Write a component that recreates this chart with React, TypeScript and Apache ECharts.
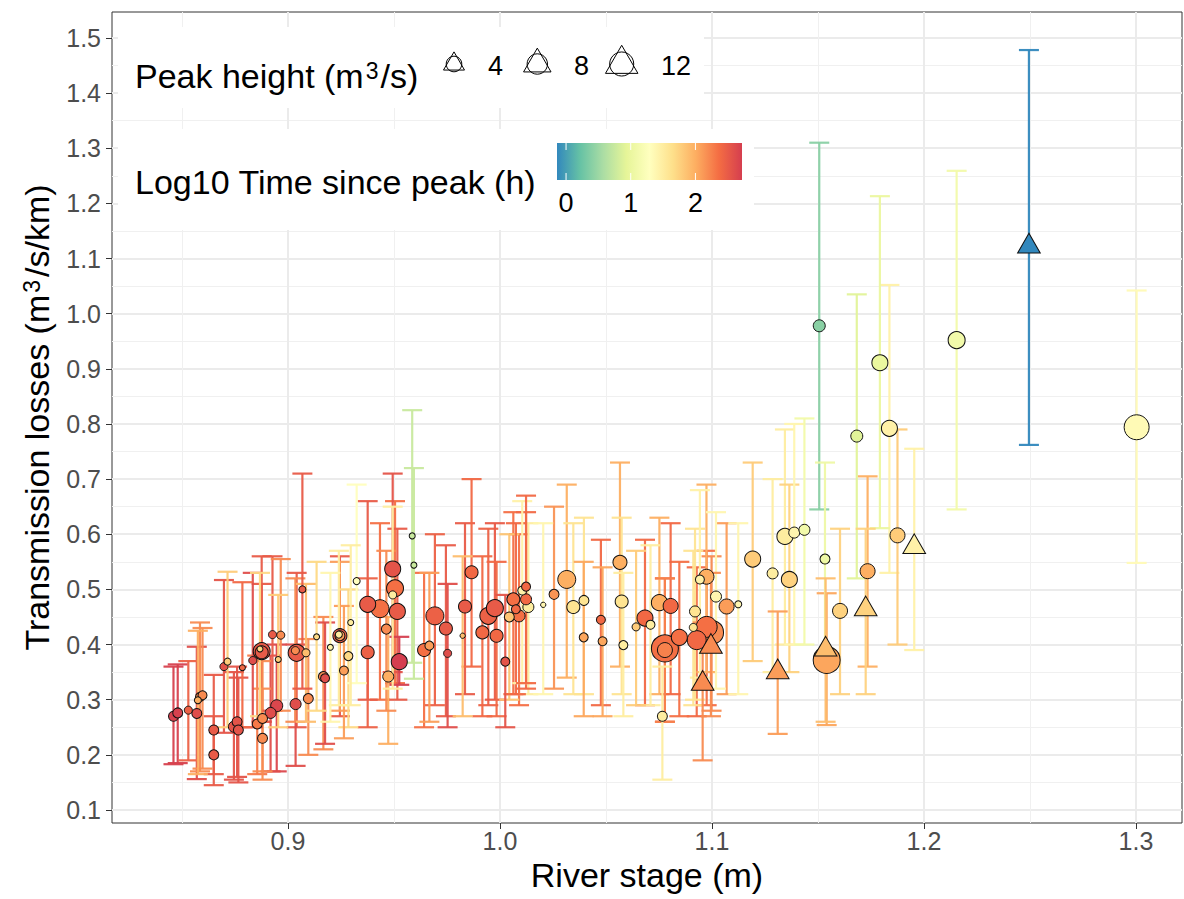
import React, { useEffect, useRef } from "react";
import * as echarts from "echarts";

// ---- axis ticks ----
const xTicks = [0.9, 1.0, 1.1, 1.2, 1.3];
const xMinor = [0.85, 0.95, 1.05, 1.15, 1.25];
const yTicks = [0.1, 0.2, 0.3, 0.4, 0.5, 0.6, 0.7, 0.8, 0.9, 1.0, 1.1, 1.2, 1.3, 1.4, 1.5];
const yMinor = [0.15, 0.25, 0.35, 0.45, 0.55, 0.65, 0.75, 0.85, 0.95, 1.05, 1.15, 1.25, 1.35, 1.45];

// ---- legend values ----
const peakKeys = [4, 8, 12];
const timeLabels = [0, 1, 2];
const spectral = ["#3288BD", "#66C2A5", "#ABDDA4", "#E6F598", "#FFFFBF", "#FEE08B", "#FDAE61", "#F46D43", "#D53E4F"];
const timeMin = -0.14;
const timeMax = 2.72;

// rows: [river stage, transmission loss, log10 time since peak, peak height, lower, upper]
const circlesLow: number[][] = [
  [0.846, 0.270, 2.70, 1.07, 0.183, 0.360],
  [0.848, 0.276, 2.70, 1.07, 0.185, 0.364],
  [0.853, 0.281, 2.45, 0.48, 0.190, 0.370],
  [0.857, 0.275, 2.60, 1.07, 0.156, 0.396],
  [0.8585, 0.305, 2.20, 0.74, 0.170, 0.440],
  [0.8597, 0.308, 2.20, 0.74, 0.175, 0.430],
  [0.8575, 0.299, 2.00, 0.27, 0.165, 0.425],
  [0.865, 0.245, 2.50, 1.07, 0.165, 0.345],
  [0.865, 0.200, 2.50, 1.07, 0.145, 0.270],
  [0.8698, 0.360, 2.55, 0.48, 0.240, 0.517],
  [0.8715, 0.369, 1.80, 0.27, 0.250, 0.532],
  [0.8745, 0.251, 2.55, 1.46, 0.155, 0.350],
  [0.876, 0.260, 2.55, 1.07, 0.160, 0.360],
  [0.8766, 0.245, 2.55, 1.07, 0.150, 0.340],
  [0.8785, 0.358, 2.40, 0.12, 0.250, 0.513],
  [0.8834, 0.371, 2.60, 0.48, 0.250, 0.530],
  [0.8855, 0.256, 2.30, 1.07, 0.165, 0.380],
  [0.888, 0.266, 2.20, 1.07, 0.170, 0.370],
  [0.888, 0.230, 2.20, 1.07, 0.155, 0.320],
  [0.8918, 0.276, 2.60, 1.46, 0.170, 0.380],
  [0.8947, 0.289, 2.65, 1.90, 0.170, 0.400],
  [0.8876, 0.388, 2.50, 5.00, 0.260, 0.560],
  [0.8876, 0.386, 2.50, 2.40, 0.260, 0.510],
  [0.8868, 0.392, 1.70, 0.12, 0.270, 0.530],
  [0.8927, 0.418, 2.50, 0.48, 0.280, 0.560],
  [0.8966, 0.417, 2.20, 0.48, 0.280, 0.555],
  [0.8954, 0.373, 1.80, 0.12, 0.250, 0.490],
  [0.9068, 0.500, 2.50, 0.27, 0.320, 0.710],
  [0.9041, 0.385, 2.50, 5.00, 0.250, 0.530],
  [0.9035, 0.389, 2.20, 0.48, 0.260, 0.520],
  [0.9085, 0.385, 1.90, 0.48, 0.260, 0.510],
  [0.9036, 0.292, 2.60, 1.46, 0.180, 0.400],
  [0.9096, 0.302, 2.20, 1.07, 0.200, 0.410],
  [0.9135, 0.414, 1.70, 0.12, 0.280, 0.550],
  [0.9167, 0.342, 2.20, 1.07, 0.210, 0.450],
  [0.9175, 0.339, 2.60, 0.74, 0.220, 0.440],
];

const circlesMid: number[][] = [
  [0.920, 0.395, 1.40, 0.12, 0.260, 0.530],
  [0.9245, 0.416, 2.50, 3.00, 0.270, 0.560],
  [0.9245, 0.416, 2.10, 1.07, 0.280, 0.550],
  [0.924, 0.418, 1.50, 0.27, 0.290, 0.570],
  [0.9324, 0.515, 1.30, 0.27, 0.330, 0.690],
  [0.9296, 0.440, 1.50, 0.12, 0.290, 0.580],
  [0.9285, 0.379, 1.70, 0.74, 0.250, 0.500],
  [0.9264, 0.353, 2.10, 0.74, 0.230, 0.470],
  [0.9376, 0.473, 2.50, 4.30, 0.300, 0.660],
  [0.9434, 0.465, 2.35, 5.80, 0.300, 0.620],
  [0.9516, 0.460, 2.50, 4.30, 0.300, 0.610],
  [0.9376, 0.386, 2.45, 2.40, 0.250, 0.520],
  [0.9494, 0.537, 2.55, 4.30, 0.350, 0.710],
  [0.9505, 0.502, 2.35, 5.00, 0.330, 0.660],
  [0.9494, 0.490, 1.50, 0.48, 0.320, 0.650],
  [0.9464, 0.428, 2.20, 1.07, 0.280, 0.570],
  [0.9473, 0.342, 2.00, 1.46, 0.220, 0.450],
  [0.9525, 0.369, 2.75, 4.30, 0.327, 0.414],
  [0.9586, 0.597, 0.75, 0.12, 0.367, 0.825],
  [0.9594, 0.544, 0.75, 0.12, 0.338, 0.720],
  [0.9642, 0.390, 2.35, 2.40, 0.250, 0.530],
  [0.9667, 0.398, 2.10, 0.74, 0.260, 0.530],
  [0.9693, 0.452, 2.45, 5.80, 0.290, 0.600],
  [0.9745, 0.429, 2.50, 2.40, 0.270, 0.580],
  [0.9753, 0.384, 2.60, 0.48, 0.250, 0.510],
  [0.9824, 0.416, 1.90, 0.05, 0.270, 0.560],
  [0.9835, 0.469, 2.50, 2.40, 0.310, 0.620],
  [0.9866, 0.531, 2.40, 2.40, 0.360, 0.700],
];

const circlesHigh: number[][] = [
  [0.9945, 0.452, 2.45, 5.00, 0.290, 0.610],
  [0.9976, 0.466, 2.50, 5.00, 0.300, 0.620],
  [0.9917, 0.422, 2.40, 2.40, 0.270, 0.560],
  [0.9984, 0.416, 2.40, 2.40, 0.270, 0.550],
  [1.0025, 0.369, 2.55, 0.74, 0.250, 0.490],
  [1.0063, 0.482, 2.35, 2.40, 0.310, 0.640],
  [1.0044, 0.450, 1.85, 1.07, 0.300, 0.600],
  [1.0090, 0.452, 2.35, 1.90, 0.290, 0.600],
  [1.0075, 0.464, 2.40, 0.74, 0.310, 0.620],
  [1.0105, 0.498, 1.45, 0.74, 0.330, 0.660],
  [1.0123, 0.505, 2.40, 0.74, 0.330, 0.670],
  [1.0134, 0.468, 1.50, 1.46, 0.310, 0.620],
  [1.0123, 0.482, 2.40, 1.46, 0.320, 0.640],
  [1.0204, 0.472, 1.40, 0.05, 0.310, 0.620],
  [1.0255, 0.491, 2.15, 1.07, 0.320, 0.650],
  [1.0315, 0.518, 2.00, 5.80, 0.340, 0.690],
  [1.0346, 0.468, 1.60, 2.40, 0.310, 0.620],
  [1.0396, 0.480, 1.60, 1.07, 0.310, 0.630],
  [1.0395, 0.413, 2.05, 0.74, 0.270, 0.550],
  [1.0476, 0.445, 2.40, 0.74, 0.290, 0.590],
  [1.0484, 0.406, 2.05, 0.74, 0.270, 0.540],
  [1.0566, 0.549, 2.00, 3.00, 0.360, 0.730],
  [1.0574, 0.478, 1.60, 2.40, 0.310, 0.630],
  [1.0582, 0.399, 1.50, 0.74, 0.270, 0.530],
];

const circlesRight: number[][] = [
  [1.0642, 0.432, 1.80, 0.48, 0.290, 0.570],
  [1.0684, 0.448, 2.40, 4.30, 0.290, 0.590],
  [1.0710, 0.436, 1.50, 0.74, 0.290, 0.580],
  [1.0752, 0.476, 2.00, 4.30, 0.310, 0.630],
  [1.0805, 0.470, 2.40, 3.60, 0.310, 0.620],
  [1.0846, 0.413, 2.35, 4.30, 0.270, 0.550],
  [1.0778, 0.393, 2.35, 15.7, 0.260, 0.520],
  [1.0778, 0.390, 2.25, 3.60, 0.260, 0.520],
  [1.0766, 0.270, 1.50, 1.07, 0.155, 0.360],
  [1.0974, 0.523, 2.00, 3.60, 0.350, 0.690],
  [1.0943, 0.518, 1.45, 0.74, 0.340, 0.680],
  [1.1019, 0.487, 1.40, 1.46, 0.320, 0.640],
  [1.1069, 0.469, 2.10, 3.60, 0.310, 0.620],
  [1.1124, 0.473, 1.40, 0.27, 0.310, 0.620],
  [1.0920, 0.460, 1.60, 1.46, 0.300, 0.610],
  [1.0912, 0.431, 1.60, 0.48, 0.290, 0.570],
  [1.0998, 0.422, 2.20, 11.9, 0.280, 0.560],
  [1.0975, 0.432, 2.35, 8.60, 0.290, 0.570],
  [1.0928, 0.408, 2.40, 6.70, 0.270, 0.540],
  [1.1192, 0.555, 1.80, 4.30, 0.370, 0.730],
  [1.1286, 0.529, 1.50, 1.46, 0.350, 0.700],
  [1.1344, 0.596, 1.50, 4.30, 0.400, 0.790],
  [1.1388, 0.603, 1.40, 1.46, 0.400, 0.800],
  [1.1436, 0.608, 1.10, 1.46, 0.400, 0.810],
  [1.1365, 0.518, 1.75, 4.30, 0.350, 0.690],
  [1.1533, 0.555, 1.05, 1.07, 0.370, 0.730],
  [1.1683, 0.778, 0.90, 1.90, 0.520, 1.035],
  [1.1837, 0.792, 1.45, 4.30, 0.530, 1.052],
  [1.1875, 0.598, 1.80, 3.60, 0.400, 0.790],
  [1.1734, 0.533, 2.00, 3.60, 0.360, 0.705],
  [1.1604, 0.461, 1.75, 3.60, 0.310, 0.610],
  [1.1541, 0.372, 2.05, 15.7, 0.254, 0.493],
  [1.1506, 0.978, 0.40, 1.90, 0.645, 1.310],
  [1.1792, 0.911, 1.00, 4.30, 0.611, 1.213],
  [1.2154, 0.952, 1.10, 5.00, 0.645, 1.259],
  [1.3003, 0.794, 1.35, 13.1, 0.548, 1.042],
];

const triangles: number[][] = [
  [1.0956, 0.329, 2.20, 4.9, 0.190, 0.440],
  [1.0995, 0.396, 2.20, 4.9, 0.270, 0.530],
  [1.1310, 0.350, 2.10, 4.9, 0.238, 0.460],
  [1.1536, 0.391, 1.90, 4.9, 0.260, 0.520],
  [1.1725, 0.464, 1.75, 4.9, 0.310, 0.610],
  [1.1954, 0.577, 1.45, 4.9, 0.390, 0.755],
  [1.2495, 1.122, -0.14, 4.9, 0.762, 1.478],
];

const FONT = "'Liberation Sans', Arial, Helvetica, sans-serif";
const TITLE_SIZE = 34;
const TEXT_SIZE = 25;

// point size scale (diameter in px from peak height)
const diam = (p: number) => 4 + 5.8 * Math.sqrt(p);

export default function App() {
  const ref = useRef<HTMLDivElement>(null);

  useEffect(() => {
    if (!ref.current) return;
    const chart = echarts.init(ref.current, undefined, { renderer: "svg" });

    const circles = [...circlesLow, ...circlesMid, ...circlesHigh, ...circlesRight]
      .slice()
      .sort((a, b) => b[3] - a[3]);
    const all = [...circles, ...triangles];

    const errData = all.map((r) => [r[0], r[1], r[2], r[4], r[5]]);
    const circleData = circles.map((r) => [r[0], r[1], r[2], r[3]]);
    const triData = triangles.map((r) => {
      const d = diam(r[3]);
      return {
        value: [r[0], r[1], r[2], r[3]],
        symbolSize: [1.347 * d, 1.1665 * d],
        symbolOffset: [0, -0.1945 * d],
      };
    });

    // legend graphics
    const g: any[] = [];
    g.push({ type: "rect", z: 50, shape: { x: 118, y: 27, width: 586, height: 81 }, style: { fill: "#fff" } });
    g.push({ type: "rect", z: 50, shape: { x: 118, y: 129, width: 636, height: 101 }, style: { fill: "#fff" } });
    g.push({
      type: "text", z: 51, x: 135, y: 76,
      style: {
        text: "Peak height (m{sup|3}/s)", fill: "#000",
        fontSize: TITLE_SIZE, fontFamily: FONT, verticalAlign: "middle", align: "left",
        rich: { sup: { fontSize: 23, fontFamily: FONT, verticalAlign: "top", padding: [0, 2, 0, 2] } },
      },
    });
    const keyX = [454, 537.3, 621.7];
    const keyLabelX = [488, 574, 661];
    peakKeys.forEach((p, i) => {
      const d = diam(p);
      const R = d / 2;
      const cx = keyX[i];
      const cy = 64;
      g.push({ type: "circle", z: 51, shape: { cx, cy, r: R }, style: { fill: "none", stroke: "#000", lineWidth: 1 } });
      g.push({
        type: "polygon", z: 51,
        shape: { points: [[cx, cy - 1.555 * R], [cx + 1.347 * R, cy + 0.777 * R], [cx - 1.347 * R, cy + 0.777 * R]] },
        style: { fill: "none", stroke: "#000", lineWidth: 1 },
      });
      g.push({
        type: "text", z: 51, x: keyLabelX[i], y: 66,
        style: { text: String(p), fill: "#000", fontSize: TEXT_SIZE + 2, fontFamily: FONT, verticalAlign: "middle", align: "left" },
      });
    });
    g.push({
      type: "text", z: 51, x: 135, y: 182,
      style: { text: "Log10 Time since peak (h)", fill: "#000", fontSize: TITLE_SIZE, fontFamily: FONT, verticalAlign: "middle", align: "left" },
    });
    const barX = 557, barY = 143, barW = 185, barH = 37;
    g.push({
      type: "rect", z: 51, shape: { x: barX, y: barY, width: barW, height: barH },
      style: {
        fill: new echarts.graphic.LinearGradient(0, 0, 1, 0,
          spectral.map((c, i) => ({ offset: i / (spectral.length - 1), color: c }))),
      },
    });
    timeLabels.forEach((v) => {
      const x = barX + ((v - timeMin) / (timeMax - timeMin)) * barW;
      g.push({ type: "line", z: 52, shape: { x1: x, y1: barY, x2: x, y2: barY + 7 }, style: { stroke: "#fff", lineWidth: 1 } });
      g.push({ type: "line", z: 52, shape: { x1: x, y1: barY + barH - 7, x2: x, y2: barY + barH }, style: { stroke: "#fff", lineWidth: 1 } });
      g.push({
        type: "text", z: 52, x, y: 203,
        style: { text: String(v), fill: "#000", fontSize: TEXT_SIZE + 2, fontFamily: FONT, verticalAlign: "middle", align: "center" },
      });
    });

    const majorSplit = { show: true, lineStyle: { color: "#EBEBEB", width: 2 } };
    const minorSplit = { show: true, lineStyle: { color: "#F0F0F0", width: 1 } };
    const fmt = (v: number) => v.toFixed(1);

    chart.setOption({
      animation: false,
      backgroundColor: "#fff",
      textStyle: { fontFamily: FONT },
      grid: { left: 112, right: 2, top: 12, bottom: 76, show: true, borderColor: "#333333", borderWidth: 1, backgroundColor: "transparent" },
      xAxis: [
        {
          type: "value", min: 0.817, max: 1.3217, position: "bottom",
          name: "River stage (m)", nameLocation: "middle", nameGap: 34,
          nameTextStyle: { fontSize: TITLE_SIZE, color: "#000", fontFamily: FONT },
          axisLine: { show: false },
          axisTick: { show: true, customValues: xTicks, length: 6, lineStyle: { color: "#333333" } },
          axisLabel: { customValues: xTicks, formatter: fmt, color: "#4D4D4D", fontSize: TEXT_SIZE, fontFamily: FONT, margin: 5 },
          splitLine: { ...majorSplit, customValues: xTicks },
        },
        {
          type: "value", min: 0.817, max: 1.3217, position: "bottom",
          axisLine: { show: false },
          axisTick: { show: false, customValues: xMinor },
          axisLabel: { show: false, customValues: xMinor },
          splitLine: { ...minorSplit, customValues: xMinor },
        },
      ],
      yAxis: [
        {
          type: "value", min: 0.0764, max: 1.547, position: "left",
          name: "Transmission losses (m{sup|3}/s/km)", nameLocation: "middle", nameGap: 58,
          nameTextStyle: {
            fontSize: TITLE_SIZE, color: "#000", fontFamily: FONT,
            rich: { sup: { fontSize: 23, fontFamily: FONT, verticalAlign: "top", padding: [0, 3, 0, 2] } },
          },
          axisLine: { show: false },
          axisTick: { show: true, customValues: yTicks, length: 6, lineStyle: { color: "#333333" } },
          axisLabel: { customValues: yTicks, formatter: fmt, color: "#4D4D4D", fontSize: TEXT_SIZE, fontFamily: FONT, margin: 11 },
          splitLine: { ...majorSplit, customValues: yTicks },
        },
        {
          type: "value", min: 0.0764, max: 1.547, position: "left",
          axisLine: { show: false },
          axisTick: { show: false, customValues: yMinor },
          axisLabel: { show: false, customValues: yMinor },
          splitLine: { ...minorSplit, customValues: yMinor },
        },
      ],
      visualMap: {
        type: "continuous", show: false, min: timeMin, max: timeMax, dimension: 2,
        seriesIndex: [0, 1, 2], inRange: { color: spectral },
      },
      series: [
        {
          type: "custom", name: "errorbars", z: 2, data: errData,
          encode: { x: 0, y: [3, 4] },
          renderItem: (params: any, api: any) => {
            const x = api.value(0);
            const lo = api.coord([x, api.value(3)]);
            const hi = api.coord([x, api.value(4)]);
            const color = api.visual("color");
            const hw = 10;
            const style = { stroke: color, lineWidth: 2.2, opacity: 0.95 };
            return {
              type: "group",
              children: [
                { type: "line", shape: { x1: lo[0], y1: lo[1], x2: hi[0], y2: hi[1] }, style },
                { type: "line", shape: { x1: lo[0] - hw, y1: lo[1], x2: lo[0] + hw, y2: lo[1] }, style },
                { type: "line", shape: { x1: hi[0] - hw, y1: hi[1], x2: hi[0] + hw, y2: hi[1] }, style },
              ],
            };
          },
        },
        {
          type: "scatter", name: "circles", z: 3, data: circleData, symbol: "circle",
          symbolSize: (v: number[]) => diam(v[3]),
          itemStyle: { borderColor: "#111", borderWidth: 1, opacity: 1 },
        },
        {
          type: "scatter", name: "triangles", z: 4, data: triData, symbol: "triangle",
          itemStyle: { borderColor: "#111", borderWidth: 1, opacity: 1 },
        },
      ],
      graphic: g,
    });

    return () => chart.dispose();
  }, []);

  return <div ref={ref} style={{ position: "absolute", left: 0, top: 0, width: 1184, height: 899 }} />;
}
